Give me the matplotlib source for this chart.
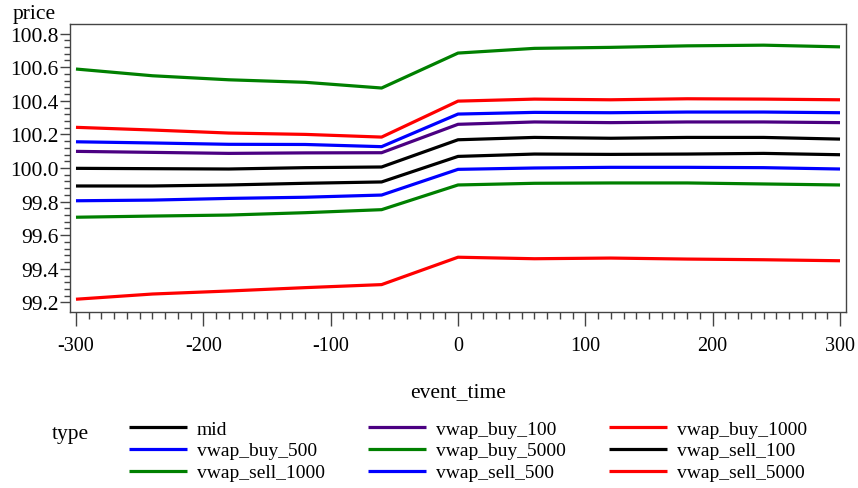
import numpy as np
import matplotlib
matplotlib.use("Agg")
import matplotlib.pyplot as plt
from matplotlib.ticker import MultipleLocator, FixedLocator, FormatStrFormatter

plt.rcParams["font.family"] = ["Liberation Serif", "DejaVu Serif"]
plt.rcParams["axes.unicode_minus"] = False

event_time = [-300, -240, -180, -120, -60, 0, 60, 120, 180, 240, 300]

mid = [99.998, 99.996, 99.994, 100.002, 100.006, 100.168, 100.182, 100.177, 100.182, 100.182, 100.172]
vwap_buy_100 = [100.099, 100.093, 100.087, 100.090, 100.091, 100.260, 100.274, 100.270, 100.274, 100.274, 100.270]
vwap_buy_500 = [100.156, 100.149, 100.141, 100.140, 100.127, 100.321, 100.331, 100.329, 100.333, 100.333, 100.329]
vwap_buy_1000 = [100.242, 100.226, 100.208, 100.200, 100.184, 100.398, 100.410, 100.406, 100.412, 100.410, 100.406]
vwap_buy_5000 = [100.589, 100.549, 100.525, 100.510, 100.476, 100.684, 100.712, 100.718, 100.727, 100.731, 100.721]
vwap_sell_100 = [99.893, 99.893, 99.899, 99.909, 99.917, 100.069, 100.083, 100.081, 100.083, 100.087, 100.079]
vwap_sell_500 = [99.805, 99.809, 99.819, 99.826, 99.839, 99.992, 100.000, 100.004, 100.004, 100.002, 99.994]
vwap_sell_1000 = [99.707, 99.714, 99.720, 99.734, 99.752, 99.899, 99.909, 99.911, 99.911, 99.905, 99.899]
vwap_sell_5000 = [99.219, 99.250, 99.268, 99.288, 99.306, 99.469, 99.460, 99.464, 99.458, 99.454, 99.448]

# alphabetical order, as in the legend (row by row)
series = [
    ("mid", mid, "black"),
    ("vwap_buy_100", vwap_buy_100, "#4b0082"),
    ("vwap_buy_1000", vwap_buy_1000, "#ff0000"),
    ("vwap_buy_500", vwap_buy_500, "#0000ff"),
    ("vwap_buy_5000", vwap_buy_5000, "#008000"),
    ("vwap_sell_100", vwap_sell_100, "black"),
    ("vwap_sell_1000", vwap_sell_1000, "#008000"),
    ("vwap_sell_500", vwap_sell_500, "#0000ff"),
    ("vwap_sell_5000", vwap_sell_5000, "#ff0000"),
]

fig = plt.figure(figsize=(8.58, 4.89), dpi=100)
ax = fig.add_axes([70 / 858, 1 - 313 / 489, 776 / 858, 288 / 489])

handles = {}
for name, vals, color in series:
    (h,) = ax.plot(event_time, vals, color=color, lw=2.3, solid_capstyle="butt")
    handles[name] = h

ax.set_xlim(-304.7, 304.7)
ax.set_ylim(99.143, 100.857)
ax.xaxis.set_major_locator(MultipleLocator(100))
ax.xaxis.set_minor_locator(MultipleLocator(10))
ax.yaxis.set_major_locator(FixedLocator([99.2, 99.4, 99.6, 99.8, 100.0, 100.2, 100.4, 100.6, 100.8]))
ax.yaxis.set_minor_locator(FixedLocator(np.arange(99.2, 100.81, 0.04)))
ax.yaxis.set_major_formatter(FormatStrFormatter("%.1f"))

edge = "#444444"
for s in ax.spines.values():
    s.set_color(edge)
    s.set_linewidth(1.0)
ax.tick_params(axis="x", which="major", direction="out", length=10, width=1, color=edge,
               labelsize=14.5, pad=7)
ax.tick_params(axis="x", which="minor", direction="out", length=5, width=1, color=edge)
ax.tick_params(axis="y", which="major", direction="out", length=7, width=1, color=edge,
               labelsize=15.5, pad=1)
ax.tick_params(axis="y", which="minor", direction="out", length=4, width=1, color=edge)

fig.text(13 / 858, 1 - 18.5 / 489, "price", fontsize=15.5, va="baseline", ha="left")
fig.text(458 / 858, 1 - 393 / 489, "event_time", fontsize=15.5, va="center", ha="center")
fig.text(52 / 858, 1 - 435 / 489, "type", fontsize=15.5, va="center", ha="left")

# matplotlib fills legend column by column
col_order = ["mid", "vwap_buy_500", "vwap_sell_1000",
             "vwap_buy_100", "vwap_buy_5000", "vwap_sell_500",
             "vwap_buy_1000", "vwap_sell_100", "vwap_sell_5000"]
leg = fig.legend([handles[n] for n in col_order], col_order, ncol=3,
                 loc="upper left", bbox_to_anchor=(129 / 858, 1 - 421 / 489),
                 frameon=False, fontsize=14, handlelength=3.0, handletextpad=0.5,
                 columnspacing=2.2, labelspacing=0.22, borderpad=0, borderaxespad=0)

fig.savefig("out.png", dpi=100)
